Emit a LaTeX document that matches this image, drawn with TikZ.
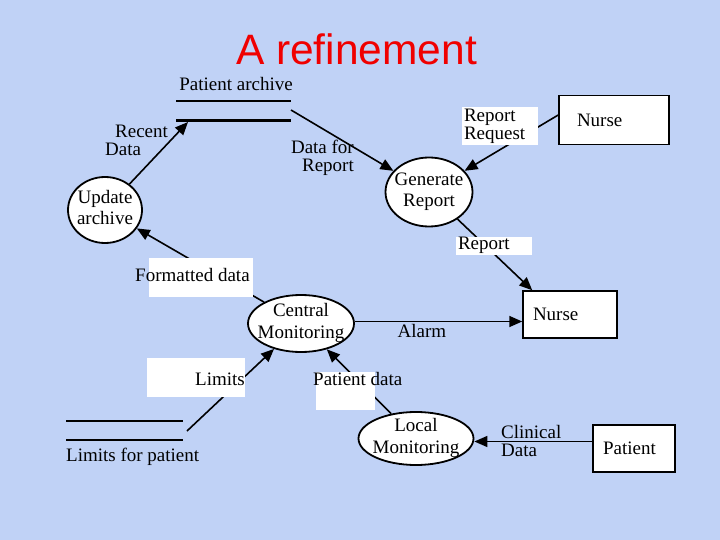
\documentclass[tikz,border=0pt]{standalone}
\usepackage{fontspec}
\setmainfont{Liberation Serif}
\newfontfamily\titlefont{Liberation Sans}
\usetikzlibrary{arrows.meta, shapes.geometric}
\definecolor{slidebg}{RGB}{192,210,246}
\definecolor{titlered}{RGB}{240,0,0}
\newcommand{\proctext}[1]{\smash{\makebox[0pt]{\raisebox{-4pt}{\renewcommand{\arraystretch}{1.2}\begin{tabular}{@{}c@{}}#1\end{tabular}}}}}

\begin{document}
\begin{tikzpicture}[
			x=1pt, y=-1pt,
			>={Triangle[length=13pt, width=11pt]},
			font=\fontsize{19}{18}\selectfont,
			process/.style={ellipse, draw, line width=1.8pt, fill=white, inner sep=0pt},
			entity/.style={rectangle, draw, line width=1.5pt, fill=white, align=left, minimum height=47pt, inner ysep=0pt},
			flow/.style={->, line width=1.6pt},
			label_box/.style={rectangle, fill=white, inner sep=2pt, align=left},
			label_text/.style={inner sep=0pt, align=left}
			]
			
			% Slide background
			\fill[slidebg] (0,0) rectangle (720,540);
			\useasboundingbox (0,0) rectangle (720,540);
			\node[anchor=base, text=titlered, font=\titlefont\fontsize{42.5}{42.5}\selectfont] (title) at (356.5,65) {A refinement};
			
			% Processes
			\node[process, minimum width=74pt, minimum height=66pt] (upd) at (105,210) {\proctext{Update\\archive}};
			\node[process, minimum width=87pt, minimum height=69pt] (gen) at (429,192) {\proctext{Generate\\Report}};
			\node[process, minimum width=106pt, minimum height=57pt] (cm) at (301,323.5) {\proctext{Central\\Monitoring}};
			\node[process, minimum width=115pt, minimum height=53pt] (lm) at (416,438.5) {\proctext{Local\\Monitoring}};
			
			% External entities
			\node[entity, text width=74pt, inner xsep=18pt, minimum height=49pt] (nurseA) at (614,120) {Nurse};
			\node[entity, text width=74pt, inner xsep=10pt] (nurseB) at (570,314.5) {Nurse};
			\node[entity, text width=62pt, inner xsep=10pt] (pat) at (634,448.5) {Patient};
			
			% Data stores
			\draw[line width=1.2pt] (176,101) -- (291,101);
			\draw[line width=2.2pt] (176,120.5) -- (291,120.5);
			\node[label_text] (archname) at (236,84.5) {Patient archive};
			\coordinate (archin) at (188,122);
			\coordinate (archout) at (291,110);
			
			\draw[line width=1.2pt] (66,421) -- (183,421);
			\draw[line width=2.2pt] (66,440) -- (183,440);
			\node[label_text, anchor=base west] (limname) at (66,461) {Limits for patient};
			\coordinate (limout) at (187,431);
			
			% Data flows
			\draw[flow] (upd) -- (archin);
			\draw[flow] (archout) -- (gen);
			\draw[flow] ([yshift=5pt]nurseA.west) -- (gen);
			\draw[flow] (gen) -- ([xshift=10pt]nurseB.north west);
			\draw[flow] (cm) -- (upd);
			\draw[flow] ([yshift=2pt]cm.east) -- ([yshift=2pt]cm.east -| nurseB.west);
			\draw[flow] (limout) -- (cm);
			\draw[flow] (lm) -- (cm);
			\draw[flow] ([yshift=-3pt]pat.west |- lm.east) -- ([yshift=-3pt]lm.east);
			
			% Flow labels
			\node[label_text, anchor=north west] (recentlbl) at (105,125) {\hspace*{10pt}Recent\\Data};
			\node[label_text, anchor=north east, align=right] (dataforlbl) at (354,140) {Data for\\Report};
			\node[label_box, text width=72pt, minimum height=38pt] (reqlbl) at (500,126) {Report\\Request};
			\node[label_box, text width=72pt, minimum height=18pt, inner ysep=0.5pt] (replbl) at (494,245.5) {Report};
			\node[label_box, minimum width=104pt, minimum height=39pt] (fmtbox) at (201,277.5) {};
			\node[label_text, anchor=base west] (fmtlbl) at (135,281) {Formatted data};
			\node[label_text, anchor=base] (alarmlbl) at (422,337) {Alarm};
			\node[label_box, minimum width=98pt, minimum height=39pt] (limbox) at (196,377.5) {};
			\node[label_text, anchor=base east] (limlbl) at (245,385) {Limits};
			\node[label_box, minimum width=59pt, minimum height=38pt] (patbox) at (345.5,391) {};
			\node[label_text, anchor=base west] (patlbl) at (313,385) {Patient data};
			\node[label_text, anchor=north west] (cliniclbl) at (501,425) {Clinical\\Data};
			
		\end{tikzpicture}
\end{document}
